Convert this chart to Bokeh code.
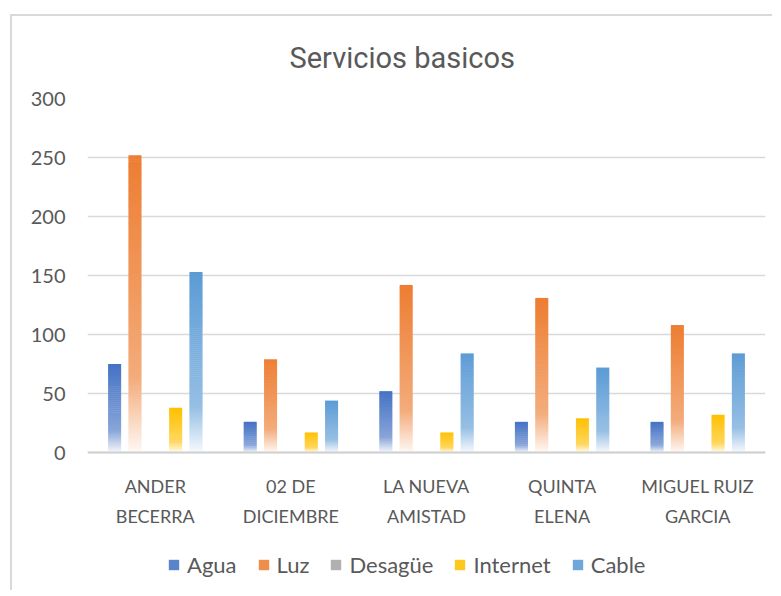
from bokeh.plotting import figure
from bokeh.models import (ColumnDataSource, Legend, LegendItem, FactorRange, Range1d, Span)
from bokeh.core.properties import value
from bokeh.transform import dodge
from bokeh.embed import file_html
from bokeh.resources import INLINE

categories = ["ANDER\nBECERRA", "02 DE\nDICIEMBRE", "LA NUEVA\nAMISTAD", "QUINTA\nELENA", "MIGUEL RUIZ\nGARCIA"]
series_names = ["Agua", "Luz", "Desagüe", "Internet", "Cable"]
agua = [75, 26, 52, 26, 26]
luz = [252, 79, 142, 131, 108]
desague = [0, 0, 0, 0, 0]
internet = [38, 17, 17, 29, 32]
cable = [153, 44, 84, 72, 84]
y_ticks = [0, 50, 100, 150, 200, 250, 300]

series_values = [agua, luz, desague, internet, cable]
base_colors = ["#4472C4", "#ED7D31", "#A5A5A5", "#FFC000", "#5B9BD5"]
offsets = [-0.3, -0.15, 0.0, 0.15, 0.3]
BAR_W = 0.096

FONT = "Lato"
TXT = "#595959"

# layout (pixels)
FIG_W, FIG_H = 772, 590
B_LEFT, B_RIGHT, B_TOP = 87, 7, 98
PLOT_PX = 354.0            # frame pixels from 0 to 300
PX_PER_UNIT = PLOT_PX / 300
BELOW_PX = FIG_H - B_TOP - PLOT_PX
Y_START = -BELOW_PX / PX_PER_UNIT
LINE1_PX, LINE2_PX = 33, 63  # category label baselines below the zero line
SLICE_PX = 2.0
OVERLAP = 0.6 / PX_PER_UNIT


def hex_to_rgb(h):
    h = h.lstrip("#")
    return tuple(int(h[i:i + 2], 16) for i in (0, 2, 4))


def mix_white(rgb, f):
    return "#%02x%02x%02x" % tuple(int(round(c + (255 - c) * f)) for c in rgb)


def white_frac(t):
    # t: 0 at top of bar, 1 at bottom
    if t <= 0.75:
        return 0.36 * t / 0.75
    return 0.36 + (0.95 - 0.36) * (t - 0.75) / 0.25


p = figure(
    x_range=FactorRange(*categories, range_padding=0),
    y_range=Range1d(Y_START, 300),
    width=FIG_W, height=FIG_H,
    output_backend="svg", toolbar_location=None,
    min_border_left=B_LEFT, min_border_right=B_RIGHT, min_border_top=B_TOP, min_border_bottom=0,
)
p.styles = {
    "background": "linear-gradient(#d9d9d9,#d9d9d9) 10px 14px / 2px 100% no-repeat, "
                  "linear-gradient(#d9d9d9,#d9d9d9) 10px 14px / 100% 2px no-repeat, white",
}

p.title.text = "Servicios basicos"
p.title.align = "left"
p.title.offset = 202
p.title.standoff = 48
p.title.text_font = "Roboto"
p.title.text_font_size = "29px"
p.title.text_font_style = "normal"
p.title.text_color = TXT

legend_items = []
for name, vals, col, off in zip(series_names, series_values, base_colors, offsets):
    rgb = hex_to_rgb(col)
    xs, tops, bottoms, colors = [], [], [], []
    for cat, v in zip(categories, vals):
        if v <= 0:
            continue
        n = max(4, int(round(v * PX_PER_UNIT / SLICE_PX)))
        for i in range(n):
            t0 = i / n
            t1 = (i + 1) / n
            xs.append(cat)
            tops.append(v * (1 - t0))
            bottoms.append(max(0.0, v * (1 - t1) - OVERLAP))
            colors.append(mix_white(rgb, white_frac((t0 + t1) / 2)))
    src = ColumnDataSource(dict(cat=xs, top=tops, bottom=bottoms, color=colors))
    p.vbar(x=dodge("cat", off, range=p.x_range), top="top", bottom="bottom",
           width=BAR_W, fill_color="color", line_color=None, source=src)
    dummy = p.vbar(x=[categories[0]], top=[0], bottom=[0], width=0.0,
                   fill_color=mix_white(rgb, 0.12), line_color=None)
    legend_items.append(LegendItem(label=name, renderers=[dummy]))

# zero line (category axis line)
p.add_layout(Span(location=0, dimension="width", line_color="#d0d0d0", line_width=2))

# category labels (two lines each)
line1 = [c.split("\n")[0] for c in categories]
line2 = [c.split("\n")[1] for c in categories]
lab_src = ColumnDataSource(dict(cat=categories, l1=line1, l2=line2,
                                y1=[-LINE1_PX / PX_PER_UNIT] * len(categories),
                                y2=[-LINE2_PX / PX_PER_UNIT] * len(categories)))
for tcol, ycol in (("l1", "y1"), ("l2", "y2")):
    p.text(x="cat", y=ycol, text=tcol, source=lab_src, text_align="center",
           text_baseline="alphabetic", text_font=value(FONT), text_font_size="18px",
           text_color=TXT)

legend = Legend(items=legend_items, orientation="horizontal", location=(80, 12),
                label_text_font=FONT, label_text_font_size="22px", label_text_color=TXT,
                glyph_width=13, glyph_height=13, label_standoff=7, spacing=20,
                padding=0, margin=0,
                border_line_color=None, background_fill_alpha=0)
p.add_layout(legend, "center")

p.xaxis.visible = False
p.yaxis.ticker = y_ticks
p.yaxis.axis_line_color = None
p.yaxis.major_tick_line_color = None
p.yaxis.minor_tick_line_color = None
p.yaxis.major_tick_out = 0
p.yaxis.major_label_standoff = 22
p.yaxis.major_label_text_font = FONT
p.yaxis.major_label_text_font_size = "20px"
p.yaxis.major_label_text_color = TXT

p.xgrid.grid_line_color = None
p.ygrid.ticker = y_ticks
p.ygrid.grid_line_color = "#d9d9d9"
p.ygrid.grid_line_width = 1.5
p.outline_line_color = None
p.background_fill_color = "white"
p.border_fill_alpha = 0

open("out.html", "w").write(file_html(p, INLINE))
